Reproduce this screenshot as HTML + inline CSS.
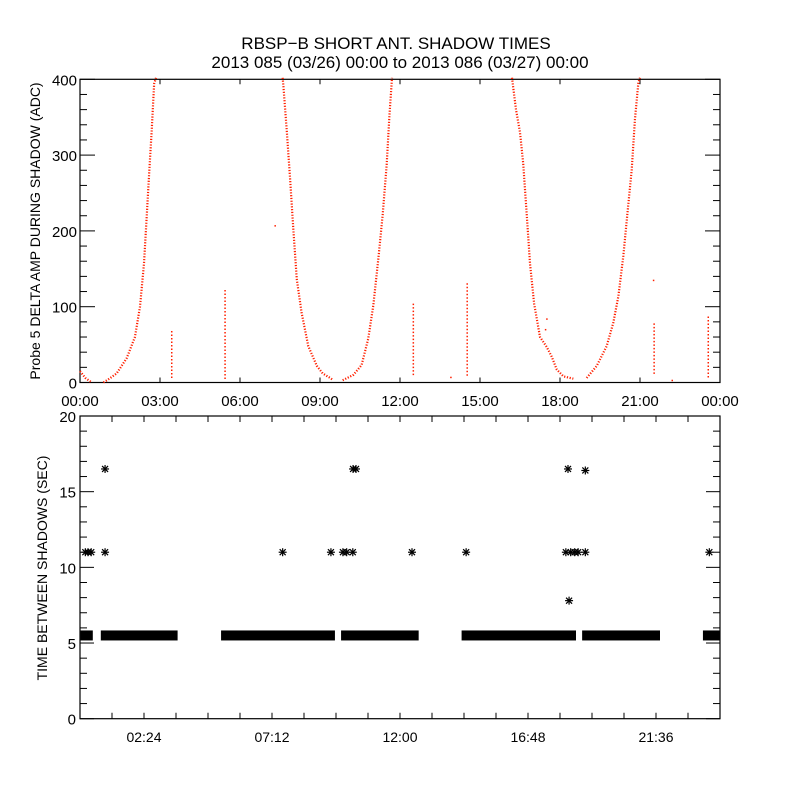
<!DOCTYPE html>
<html><head><meta charset="utf-8"><style>
body{margin:0;background:#fff;}
svg{display:block;font-family:"Liberation Sans",sans-serif;}
</style></head><body>
<svg id="chart" width="800" height="800" viewBox="0 0 800 800">
<rect width="800" height="800" fill="#fff"/>
<text x="396" y="49" font-size="17" text-anchor="middle">RBSP−B SHORT ANT. SHADOW TIMES</text>
<text x="400" y="68" font-size="17" text-anchor="middle">2013 085 (03/26) 00:00 to 2013 086 (03/27) 00:00</text>
<g id="topPanel"></g>
<g id="botPanel"></g>
</svg>
<script>
// ---- top panel data (hours, ADC) ----
const curve1H = [0.88,1.1,1.375,1.75,2.06,2.25,2.4,2.5,2.6,2.69,2.78,2.85];
const curve1V = [0,5,12,32,60,100,157,218,280,333,394,405];
const curve0H = [0.0,0.2,0.4];
const curve0V = [15,6,1];
const curve2H = [7.6,7.63,7.75,7.88,8.0,8.13,8.31,8.56,8.88,9.1,9.38,9.5];
const curve2V = [405,390,334,268,202,136,92,48,22,12,6,3];
const curve3H = [9.85,10.25,10.56,10.81,11.0,11.19,11.35,11.5,11.6,11.7];
const curve3V = [3,10,23,58,102,164,221,287,350,405];
const curve4H = [16.2,16.35,16.5,16.62,16.75,16.875,17.03,17.25,17.5,17.69,17.88,18.13,18.5];
const curve4V = [405,360,330,289,223,157,104,60,47,34,17,8,5];
const curve5H = [19.0,19.38,19.75,20.0,20.19,20.375,20.52,20.69,20.81,20.94,21.0];
const curve5V = [6,22,48,79,114,167,220,281,347,396,405];
const segH  = [3.44,5.44,12.5,14.52,21.53,23.56];
const segV1 = [68,122,104,131,78,87];
const segV2 = [5,2,8,8,10,5];
const dotH = [7.31,13.9,22.2,21.5,17.5,17.45];
const dotV = [207,7,3,135,84,70];
// ---- bottom panel data (hours, seconds) ----
const bandStart = [0.02,0.78,5.29,9.79,14.31,18.83,23.36];
const bandEnd   = [0.48,3.66,9.56,12.7,18.6,21.75,24.0];
const bandValue = [5.5,5.5,5.5,5.5,5.5,5.5,5.5];
const outH = [0.2,0.3,0.42,0.94,0.94,7.6,9.41,9.86,10.0,10.23,10.24,10.35,12.45,14.48,18.3,18.34,18.22,18.4,18.55,18.68,18.95,18.95,23.6];
const outV = [11,11,11,11,16.5,11,11,11,11,11,16.5,16.5,11,11,16.5,7.8,11,11,11,11,11,16.4,11];
const topTicks = ["00:00","03:00","06:00","09:00","12:00","15:00","18:00","21:00","00:00"];
const topYTicks = [0,100,200,300,400];
const botTicks = ["02:24","07:12","12:00","16:48","21:36"];
const botYTicks = [0,5,10,15,20];

const NS="http://www.w3.org/2000/svg";
const X0=80,X1=720;
const xs=h=>X0+h/24*(X1-X0);
const T0=79.3,T1=382.5, yt=v=>T1-v/400*(T1-T0);
const B0=416,B1=718.7, yb=v=>B1-v/20*(B1-B0);
function mk(tag,attrs,parent){const e=document.createElementNS(NS,tag);for(const k in attrs)e.setAttribute(k,attrs[k]);parent.appendChild(e);return e;}
const topG=document.getElementById('topPanel'), botG=document.getElementById('botPanel');

let f=mk('rect',{x:X0,y:T0,width:X1-X0,height:T1-T0,fill:'none',stroke:'#000','stroke-width':1.2},topG);


f=mk('rect',{x:X0,y:B0,width:X1-X0,height:B1-B0,fill:'none',stroke:'#000','stroke-width':1.2},botG);



for(let i=0;i<topTicks.length;i++){
  const x=xs(i*3);
  mk('line',{x1:x,y1:T1,x2:x,y2:T1-5,stroke:'#000'},topG);
  mk('line',{x1:x,y1:T0,x2:x,y2:T0+5,stroke:'#000'},topG);
  const t=mk('text',{x:x,y:406,'font-size':15,'text-anchor':'middle'},topG);
  t.textContent=topTicks[i];
  
  
}
for(let v=0;v<=400;v+=20){
  const y=yt(v),L=(v%100===0)?15:7;
  mk('line',{x1:X0,y1:y,x2:X0+L,y2:y,stroke:'#000'},topG);
  mk('line',{x1:X1,y1:y,x2:X1-L,y2:y,stroke:'#000'},topG);
}
for(const v of topYTicks){
  const t=mk('text',{x:77,y:yt(v)+6,'font-size':15,'text-anchor':'end'},topG);
  t.textContent=v;
  
  
}
let yl=mk('text',{x:0,y:0,'font-size':14,'text-anchor':'middle',transform:'translate(40,231) rotate(-90)'},topG);
yl.textContent='Probe 5 DELTA AMP DURING SHADOW (ADC)';



function curve(H,V,name){
  const pts=H.map((h,i)=>xs(h)+','+yt(Math.min(V[i],402))).join(' ');
  const p=mk('polyline',{points:pts,fill:'none',stroke:'#ff2000','stroke-width':2.2,'stroke-dasharray':'1.2 1.6'},topG);
  
  
}
curve(curve0H,curve0V,'shadow-curve-0');
curve(curve1H,curve1V,'shadow-curve-1');
curve(curve2H,curve2V,'shadow-curve-2');
curve(curve3H,curve3V,'shadow-curve-3');
curve(curve4H,curve4V,'shadow-curve-4');
curve(curve5H,curve5V,'shadow-curve-5');
for(let i=0;i<segH.length;i++){
  const l=mk('line',{x1:xs(segH[i]),y1:yt(segV1[i]),x2:xs(segH[i]),y2:yt(segV2[i]),stroke:'#ff2000','stroke-width':1.5,'stroke-dasharray':'1.5 2'},topG);
  
  
}
for(let i=0;i<dotH.length;i++){
  const d=mk('rect',{x:xs(dotH[i])-0.5,y:yt(dotV[i])-0.5,width:1.5,height:1.5,fill:'#ff2000'},topG);
  
  
}

for(let i=0;i<=20;i++){
  const x=xs(i*1.2);
  mk('line',{x1:x,y1:B1,x2:x,y2:B1-6,stroke:'#000'},botG);
  mk('line',{x1:x,y1:B0,x2:x,y2:B0+6,stroke:'#000'},botG);
}
for(let i=0;i<botTicks.length;i++){
  const t=mk('text',{x:xs(2.4+i*4.8),y:742,'font-size':14,'text-anchor':'middle'},botG);
  t.textContent=botTicks[i];
  
  
}
for(let v=0;v<=20;v++){
  const y=yb(v),L=(v%5===0)?14:7;
  mk('line',{x1:X0,y1:y,x2:X0+L,y2:y,stroke:'#000'},botG);
  mk('line',{x1:X1,y1:y,x2:X1-L,y2:y,stroke:'#000'},botG);
}
for(const v of botYTicks){
  const t=mk('text',{x:76,y:yb(v)+6,'font-size':15,'text-anchor':'end'},botG);
  t.textContent=v;
  
  
}
yl=mk('text',{x:0,y:0,'font-size':14,'text-anchor':'middle',transform:'translate(47,568) rotate(-90)'},botG);
yl.textContent='TIME BETWEEN SHADOWS (SEC)';



for(let i=0;i<bandStart.length;i++){
  const x1=xs(bandStart[i]),x2=xs(bandEnd[i]),y=yb(bandValue[i]);
  const r=mk('rect',{x:x1,y:y-5,width:Math.max(1,x2-x1),height:10,fill:'#000'},botG);
  
  
}
function star(h,v){
  const cx=xs(h),cy=yb(v),s=4;
  const g=mk('g',{stroke:'#000','stroke-width':1.2},botG);
  
  
  mk('line',{x1:cx-s,y1:cy,x2:cx+s,y2:cy},g);
  mk('line',{x1:cx,y1:cy-s,x2:cx,y2:cy+s},g);
  mk('line',{x1:cx-3,y1:cy-3,x2:cx+3,y2:cy+3},g);
  mk('line',{x1:cx-3,y1:cy+3,x2:cx+3,y2:cy-3},g);
}
for(let i=0;i<outH.length;i++) star(outH[i],outV[i]);
</script>
</body></html>
